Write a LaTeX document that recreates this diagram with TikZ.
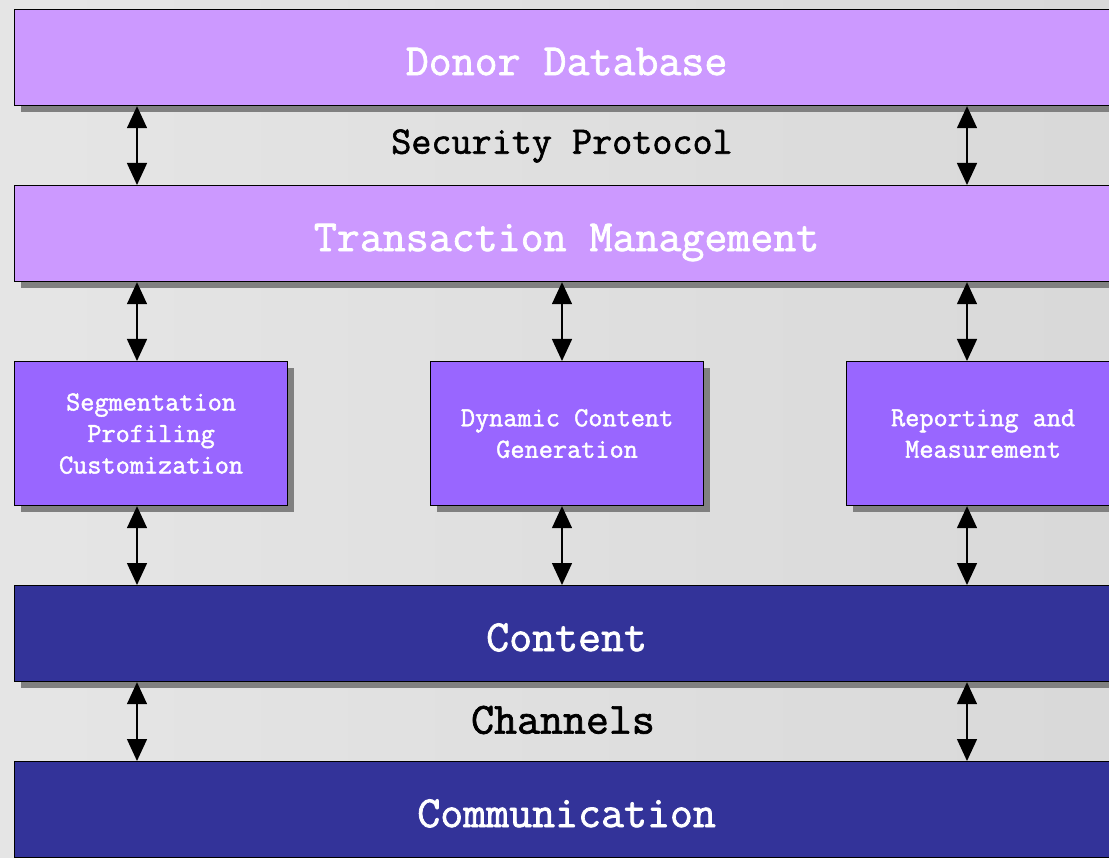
\documentclass[tikz,border=0pt]{standalone}
\usepackage{fontspec}
\newfontfamily\slabfont{Latin Modern Mono}[FakeBold=1.6]
\usetikzlibrary{arrows.meta,shadows}

\definecolor{layerlight}{HTML}{CC99FF}
\definecolor{layermid}{HTML}{9966FF}
\definecolor{layerdark}{HTML}{333399}

\tikzset{
  layer/.style={draw=black,line width=1.2pt,anchor=north west,inner sep=0pt,text=white,
    minimum width=1104pt,minimum height=96pt,font=\slabfont\fontsize{44.6}{52}\selectfont,
    text height=35pt,text depth=0pt,
    drop shadow={shadow xshift=6pt,shadow yshift=-6pt,fill=gray,opacity=1}},
  module/.style={layer,fill=layermid,minimum width=273pt,minimum height=144pt,align=center,
    text height=,text depth=,font=\slabfont\fontsize{27.5}{31.5}\selectfont},
  caption/.style={font=\slabfont\fontsize{39}{44}\selectfont},
  link/.style={{Triangle[length=22pt,width=20pt]}-{Triangle[length=22pt,width=20pt]},line width=1.5pt}
}

\begin{document}
\begin{tikzpicture}[x=1pt,y=-1pt]
\useasboundingbox (0,0) rectangle (1109,858);
\clip (0,0) rectangle (1109,858);
\shade[left color=gray!20,middle color=gray!36,right color=gray!30] (0,0) rectangle (1109,858);

% stacked layers
\node[layer,fill=layerlight] (donor) at (14,9) {Donor Database};
\node[layer,fill=layerlight] (trans) at (14,185) {Transaction Management};
\node[module] (seg) at (14,361) {Segmentation\\Profiling\\Customization};
\node[module] (dyn) at (430,361) {Dynamic Content\\Generation};
\node[module] (rep) at (846,361) {Reporting and\\Measurement};
\node[layer,fill=layerdark] (content) at (14,585) {Content};
\node[layer,fill=layerdark] (comm) at (14,761) {Communication};

\node[caption] (secp) at (562,146) {Security Protocol};
\node[caption,font=\slabfont\fontsize{44.6}{52}\selectfont] (chan) at (563,720) {Channels};

% arrow columns
\coordinate (colA) at (137,0);
\coordinate (colB) at (562,0);
\coordinate (colC) at (967,0);

\foreach \c in {colA,colC} {
  \draw[link] (donor.south -| \c) -- (trans.north -| \c);
  \draw[link] (content.south -| \c) -- (comm.north -| \c);
}
\foreach \c/\m in {colA/seg,colB/dyn,colC/rep} {
  \draw[link] (trans.south -| \c) -- (\m.north -| \c);
  \draw[link] (\m.south -| \c) -- (content.north -| \c);
}
\end{tikzpicture}
\end{document}
